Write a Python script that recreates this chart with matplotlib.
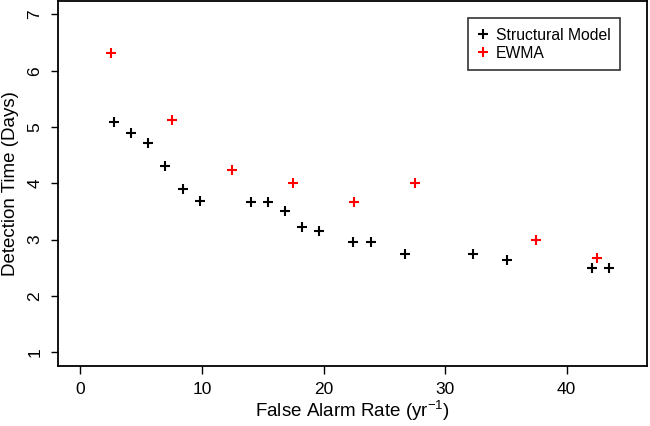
import matplotlib
matplotlib.use('Agg')
import matplotlib.pyplot as plt

plt.rcParams['font.family'] = ['Liberation Sans', 'DejaVu Sans']
plt.rcParams['mathtext.fontset'] = 'custom'
plt.rcParams['mathtext.rm'] = 'Liberation Sans'
plt.rcParams['mathtext.it'] = 'Liberation Sans'

# Structural model points (false alarm rate per year, detection time in days)
struct_x = [2.80, 4.17, 5.59, 6.99, 8.42, 9.84, 14.01, 15.44, 16.86, 18.27,
            19.63, 22.45, 23.87, 26.66, 32.27, 35.07, 42.11, 43.50]
struct_y = [5.09, 4.90, 4.71, 4.30, 3.90, 3.68, 3.66, 3.66, 3.51, 3.22,
            3.15, 2.96, 2.96, 2.74, 2.74, 2.63, 2.49, 2.49]

# EWMA points
ewma_x = [2.5, 7.5, 12.5, 17.5, 22.5, 27.5, 37.5, 42.5]
ewma_y = [6.31, 5.12, 4.24, 4.00, 3.66, 4.00, 3.00, 2.67]

xticks = [0, 10, 20, 30, 40]
yticks = [1, 2, 3, 4, 5, 6, 7]

fig = plt.figure(figsize=(6.5, 4.26), dpi=100)
ax = fig.add_axes([0.0897, 0.1416, 0.9053, 0.8561])

ax.plot(struct_x, struct_y, linestyle='none', marker='+', color='black',
        markersize=7.5, markeredgewidth=1.5, label='Structural Model')
ax.plot(ewma_x, ewma_y, linestyle='none', marker='+', color='red',
        markersize=7.5, markeredgewidth=1.5, label='EWMA')

ax.set_xlim(-1.81, 46.58)
ax.set_ylim(0.76, 7.24)
ax.set_xticks(xticks)
ax.set_yticks(yticks)
ax.tick_params(direction='out', length=5.4, width=1, labelsize=12.5, pad=6)
for lab in ax.get_yticklabels():
    lab.set_rotation(90)
    lab.set_va('center')

for sp in ax.spines.values():
    sp.set_linewidth(1.3)

ax.set_xlabel('False Alarm Rate (yr$^{-1}$)', fontsize=13.5, labelpad=1.5)
ax.set_ylabel('Detection Time (Days)', fontsize=13.5, labelpad=6)

leg = ax.legend(loc='upper right', bbox_to_anchor=(0.9546, 0.9526),
                fontsize=11.3, fancybox=False, edgecolor='black',
                borderpad=0.6, handlelength=0.7, handletextpad=0.48,
                labelspacing=0.2, borderaxespad=0)
leg.get_frame().set_linewidth(1.2)

fig.savefig('out.png', dpi=100)
